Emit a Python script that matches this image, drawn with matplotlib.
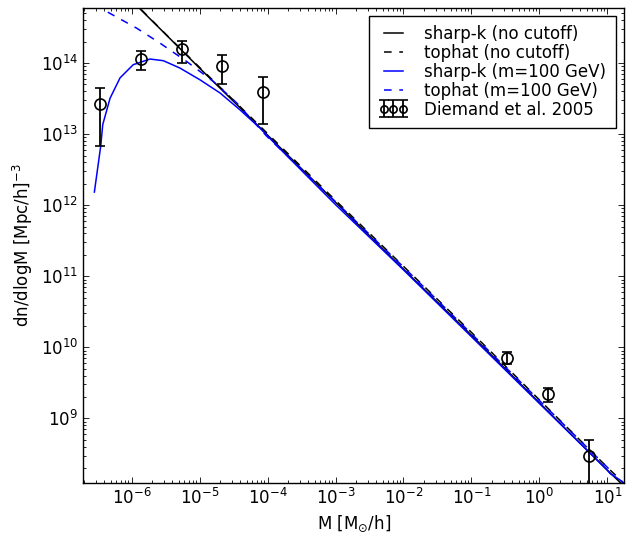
import matplotlib
matplotlib.use("Agg")
import matplotlib.pyplot as plt

# halo mass function curves
M_sharp = [2.84e-7, 1.0e-6, 3.16e-6, 1.0e-5, 3.16e-5, 1.0e-4, 1.0e-3, 1.0e-2, 1.0e-1, 1.0, 10.0, 17.4]
n_sharp = [2.5e15, 7.6e14, 2.55e14, 8.5e13, 2.9e13, 9.7e12, 1.1e12, 1.26e11, 1.48e10, 1.66e9, 1.86e8, 1.12e8]

M_tophat = M_sharp
n_tophat = [2.57e15, 7.76e14, 2.57e14, 8.7e13, 3.0e13, 1.02e13, 1.17e12, 1.38e11, 1.62e10, 1.82e9, 2.04e8, 1.23e8]

M_sharp_cut = [2.84e-7, 3.52e-7, 3.77e-7, 4.83e-7, 6.78e-7, 1.06e-6, 1.87e-6, 2.94e-6, 5.16e-6,
               1.02e-5, 2.0e-5, 3.93e-5, 7.73e-5, 1.53e-4, 1.0e-3, 1.0e-2, 1.0e-1, 1.0, 10.0, 10.9, 15.3, 17.4]
n_sharp_cut = [1.53e12, 6.8e12, 1.36e13, 3.2e13, 6.2e13, 9.5e13, 1.14e14, 1.08e14, 8.5e13,
               5.8e13, 3.8e13, 2.2e13, 1.22e13, 6.2e12, 1.02e12, 1.23e11, 1.41e10, 1.62e9, 1.86e8, 1.68e8, 1.36e8, 1.2e8]

M_tophat_cut = [2.84e-7, 4.32e-7, 1.19e-6, 2.62e-6, 6.49e-6, 1.6e-5, 3.52e-5, 9.73e-5, 1.0e-3, 1.0e-2, 1.0e-1, 1.0, 10.0, 12.6]
n_tophat_cut = [6.6e14, 5.3e14, 3.1e14, 1.91e14, 1.05e14, 5.5e13, 2.75e13, 9.35e12, 1.12e12, 1.35e11, 1.55e10, 1.78e9, 2.04e8, 1.6e8]

# Diemand et al. 2005 points
M_diem = [3.44e-7, 1.38e-6, 5.47e-6, 2.16e-5, 8.67e-5, 0.336, 1.32, 5.35]
n_diem = [2.69e13, 1.15e14, 1.56e14, 9.08e13, 3.87e13, 7.05e9, 2.18e9, 2.98e8]
n_diem_hi = [4.45e13, 1.5e14, 2.07e14, 1.31e14, 6.37e13, 8.5e9, 2.69e9, 4.93e8]
n_diem_lo = [6.9e12, 8.05e13, 1.0e14, 5.07e13, 1.39e13, 5.8e9, 1.69e9, 3e7]

plt.rcParams.update({
    "font.size": 12,
    "mathtext.fontset": "dejavusans",
    "xtick.direction": "in",
    "ytick.direction": "in",
    "xtick.top": True,
    "ytick.right": True,
    "xtick.major.size": 4,
    "ytick.major.size": 4,
    "xtick.minor.size": 2,
    "ytick.minor.size": 2,
    "xtick.major.width": 0.6,
    "ytick.major.width": 0.6,
    "xtick.minor.width": 0.6,
    "ytick.minor.width": 0.6,
    "axes.linewidth": 1.0,
})

fig = plt.figure(figsize=(6.28, 5.33), dpi=100)
ax = fig.add_axes([0.1326, 0.0932, 0.8610, 0.8922])

dash = (5, 5)
ax.loglog(M_sharp, n_sharp, "k-", lw=1.1, label="sharp-k (no cutoff)")
ax.loglog(M_tophat, n_tophat, "k--", lw=1.1, dashes=dash, label="tophat (no cutoff)")
ax.loglog(M_sharp_cut, n_sharp_cut, "b-", lw=1.1, label="sharp-k (m=100 GeV)")
ax.loglog(M_tophat_cut, n_tophat_cut, "b--", lw=1.1, dashes=dash, label="tophat (m=100 GeV)")

yerr = [[n - lo for n, lo in zip(n_diem, n_diem_lo)],
        [hi - n for n, hi in zip(n_diem, n_diem_hi)]]
ax.errorbar(M_diem, n_diem, yerr=yerr, fmt="o", mfc="none", mec="k", ms=8, mew=1.2,
            ecolor="k", elinewidth=1.3, capsize=3.5, capthick=1.3, label="Diemand et al. 2005")

ax.set_xlim(1.95e-7, 17.5)
ax.set_ylim(1.22e8, 6.0e14)
ax.set_xlabel(r"M [M$_{\odot}$/h]")
ax.set_ylabel(r"dn/dlogM [Mpc/h]$^{-3}$")

leg = ax.legend(loc="upper right", numpoints=3, markerscale=0.65, fancybox=False,
                edgecolor="k", framealpha=1, labelspacing=0.05, handlelength=1.75,
                handletextpad=1.0, borderpad=0.55, borderaxespad=0.5)
leg.get_frame().set_linewidth(1.0)

fig.savefig("out.png", dpi=100)
